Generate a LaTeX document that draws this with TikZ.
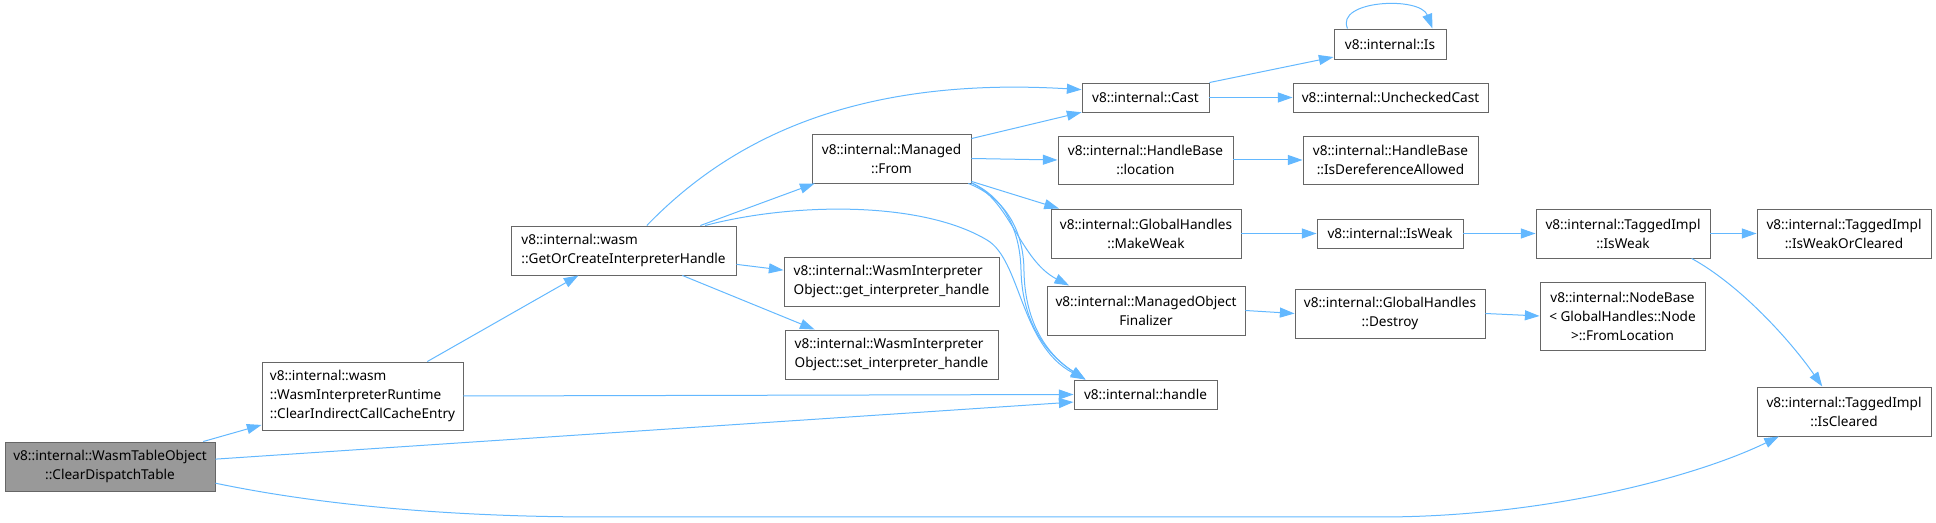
\documentclass[tikz,border=0pt]{standalone}
\usepackage{fontspec}
\setmainfont{Noto Sans}
\usetikzlibrary{arrows.meta}
\definecolor{edgeblue}{HTML}{63B8FF}
\definecolor{boxgray}{HTML}{666666}
\definecolor{focusgray}{HTML}{999999}

\begin{document}
\begin{tikzpicture}[x=0.75pt,y=-0.75pt,->,>={Triangle[length=11pt,width=7.5pt]},color=edgeblue,line width=0.75pt]
  \def\f{0.75}

\tikzstyle{func}=[draw=boxgray,fill=white,text=black,line width=0.7pt,inner sep=0pt,align=center,font=\fontsize{10.2}{14.25}\selectfont]
\tikzstyle{focus}=[func,fill=focusgray]
\useasboundingbox (0,0) rectangle (1936,523);

\node[focus][minimum width=210*\f pt,minimum height=49*\f pt] (F1) at (110,466.5) {v8::internal::WasmTableObject\\::ClearDispatchTable};
\node[func][minimum width=201*\f pt,minimum height=68*\f pt,align=left] (F2) at (362.5,396) {v8::internal::wasm\\::WasmInterpreterRuntime\\::ClearIndirectCallCacheEntry};
\draw (F1.15) -- (F2.196);
\node[func][minimum width=225*\f pt,minimum height=49*\f pt,align=left] (F3) at (623.5,250.5) {v8::internal::wasm\\::GetOrCreateInterpreterHandle};
\draw (F2.28) -- (F3.209);
\node[func][minimum width=159*\f pt,minimum height=49*\f pt] (F4) at (891.5,158.5) {v8::internal::Managed\\::From};
\draw (F3.18) -- (F4.198);
\node[func][minimum width=215*\f pt,minimum height=49*\f pt,align=left] (F5) at (891.5,281.5) {v8::internal::WasmInterpreter\\Object::get\_interpreter\_handle};
\draw (F3.-7) -- (F5.174);
\node[func][minimum width=213*\f pt,minimum height=49*\f pt,align=left] (F6) at (891.5,354.5) {v8::internal::WasmInterpreter\\Object::set\_interpreter\_handle};
\draw (F3.-23) -- (F6.162);
\node[func][minimum width=127*\f pt,minimum height=29*\f pt] (F7) at (1145.5,97.5) {v8::internal::Cast};
\draw (F3.47) .. controls (720,150) and (840,75) .. (F7.173);
\draw (F4.14) -- (F7.193);
\node[func][minimum width=175*\f pt,minimum height=48*\f pt] (F8) at (1145.5,160) {v8::internal::HandleBase\\::location};
\draw (F4.east) -- (F8.west);
\node[func][minimum width=190*\f pt,minimum height=49*\f pt] (F9) at (1146,233.5) {v8::internal::GlobalHandles\\::MakeWeak};
\draw (F4.-16) -- (F9.164);
\node[func][minimum width=198*\f pt,minimum height=49*\f pt] (F10) at (1146,310.5) {v8::internal::ManagedObject\\Finalizer};
\draw (F4.-17) .. controls (1010,200) and (1020,260) .. (F10.162);
\node[func][minimum width=143*\f pt,minimum height=29*\f pt] (F11) at (1145.5,394.5) {v8::internal::handle};
\draw (F2.east) -- (F11.west);
\draw (F1.4) -- (F11.186);
\draw (F3.17) .. controls (790,203) and (920,200) .. (987,240) .. controls (1021,260) and (1020,345) .. (F11.166);
\draw (F4.-17) .. controls (1000,195) and (1020,225) .. (1021,270) .. controls (1022,315) and (1040,350) .. (F11.166);
\draw (F4.-18) .. controls (1003,197) and (1024,228) .. (1024,272) .. controls (1025,318) and (1043,352) .. (F11.166);
\node[func][minimum width=112*\f pt,minimum height=30*\f pt] (F12) at (1390,44) {v8::internal::Is};
\draw (F7.north east) -- (F12.193);
\draw (F12.160) .. controls (1335,0) and (1420,-4) .. (F12.20);
\node[func][minimum width=195*\f pt,minimum height=29*\f pt] (F13) at (1390.5,97.5) {v8::internal::UncheckedCast};
\draw (F7.east) -- (F13.west);
\node[func][minimum width=175*\f pt,minimum height=48*\f pt] (F14) at (1390.5,160) {v8::internal::HandleBase\\::IsDereferenceAllowed};
\draw (F8.east) -- (F14.west);
\node[func][minimum width=146*\f pt,minimum height=29*\f pt] (F15) at (1390,233.5) {v8::internal::IsWeak};
\draw (F9.east) -- (F15.west);
\node[func][minimum width=190*\f pt,minimum height=49*\f pt] (F16) at (1390,313.5) {v8::internal::GlobalHandles\\::Destroy};
\draw (F10.east) -- (F16.west);
\node[func][minimum width=174*\f pt,minimum height=49*\f pt] (F17) at (1623,233.5) {v8::internal::TaggedImpl\\::IsWeak};
\draw (F15.east) -- (F17.west);
\node[func][minimum width=165*\f pt,minimum height=68*\f pt] (F18) at (1622.5,316) {v8::internal::NodeBase\\< GlobalHandles::Node\\>::FromLocation};
\draw (F16.east) -- (F18.west);
\node[func][minimum width=174*\f pt,minimum height=49*\f pt] (F19) at (1844,233.5) {v8::internal::TaggedImpl\\::IsWeakOrCleared};
\draw (F17.east) -- (F19.west);
\node[func][minimum width=174*\f pt,minimum height=49*\f pt] (F20) at (1844,411.5) {v8::internal::TaggedImpl\\::IsCleared};
\draw (F17.-20) .. controls (1740,285) and (1790,340) .. (F20.131);
\draw (F1.-9) .. controls (320,505) and (450,517) .. (600,517) -- (1380,517) .. controls (1550,517) and (1700,475) .. (F20.201);
\end{tikzpicture}
\end{document}
